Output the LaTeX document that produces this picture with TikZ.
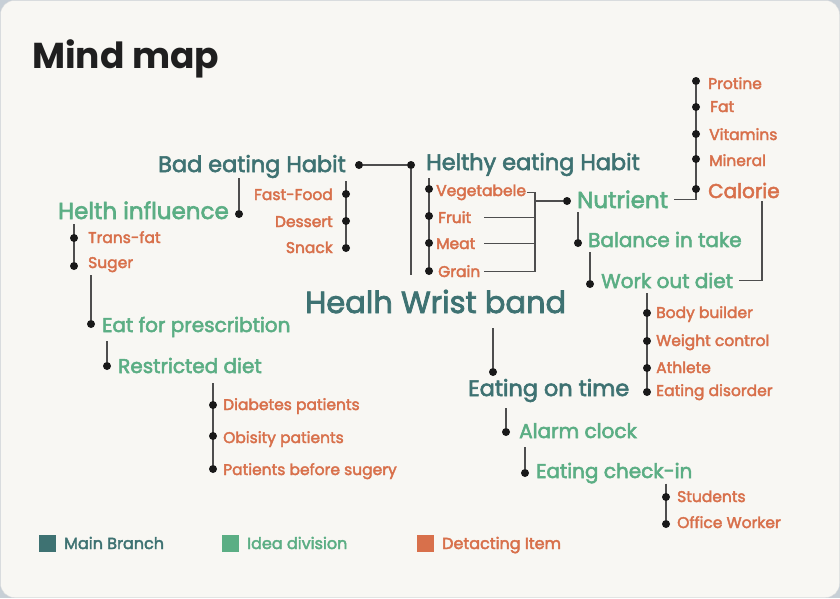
\documentclass[tikz,border=0pt]{standalone}
\usepackage{fontspec}
\setmainfont{Poppins}
\newfontfamily\medfont{Poppins}[FakeBold=2.6]
\usepackage{xcolor}
\usepackage{tikz}
\usetikzlibrary{backgrounds,calc}

\definecolor{mainc}{HTML}{3E7272}
\definecolor{ideac}{HTML}{5BAE84}
\definecolor{itemc}{HTML}{D8704B}
\definecolor{titlec}{HTML}{1F1F1F}
\definecolor{cardc}{HTML}{F8F7F3}
\definecolor{edgec}{HTML}{DCDCDC}
\definecolor{outc}{HTML}{C7CFD6}
\definecolor{linec}{HTML}{4E4E4E}

\begin{document}
\begin{tikzpicture}[
  x=1pt,y=-1pt,
  every node/.style={inner sep=0pt,anchor=base west},
  title/.style={text=titlec,font=\fontsize{36}{40}\selectfont\bfseries},
  mainb/.style={text=mainc,font=\medfont\fontsize{22.4}{26}\selectfont},
  bigb/.style={text=mainc,font=\medfont\fontsize{30.5}{34}\selectfont},
  idea/.style={text=ideac,font=\medfont\fontsize{20}{23}\selectfont},
  bigidea/.style={text=ideac,font=\medfont\fontsize{23}{26}\selectfont},
  item/.style={text=itemc,font=\medfont\fontsize{15.5}{18}\selectfont},
  dot/.style={circle,fill=black!90,minimum size=8pt,anchor=center},
  key/.style={minimum size=17pt,anchor=center},
  keytext/.style={font=\medfont\fontsize{16}{19}\selectfont},
  link/.style={draw=linec,line width=1.3pt}
]
% card
\begin{scope}[on background layer]
\fill[outc] (0,0) rectangle (840,598);
\draw[fill=cardc,draw=edgec,rounded corners=14pt] (0.5,0.5) rectangle (839.5,597.5);
\end{scope}

\node[title] (title) at (32,68) {Mind map};

% main branches
\node[mainb] (bad) at (158,172) {Bad eating Habit};
\node[mainb] (healthy) at (426,170) {Helthy eating Habit};
\node[bigb] (band) at (305,313) {Healh Wrist band};
\node[mainb] (ontime) at (468,396) {Eating on time};

% idea division
\node[bigidea] (influence) at (58,219) {Helth influence};
\node[bigidea] (nutrient) at (577,208) {Nutrient};
\node[idea] (balance) at (588,247) {Balance in take};
\node[idea] (workout) at (601,288) {Work out diet};
\node[idea] (prescr) at (102,332) {Eat for prescribtion};
\node[idea] (restrict) at (118,373) {Restricted diet};
\node[idea] (alarm) at (519,438) {Alarm clock};
\node[idea] (checkin) at (536,478) {Eating check-in};

% detecting items
\node[item,anchor=base east] (fast) at (333,200) {Fast-Food};
\node[item,anchor=base east] (dessert) at (333,227) {Dessert};
\node[item,anchor=base east] (snack) at (333,253) {Snack};
\node[item] (trans) at (88,243) {Trans-fat};
\node[item] (suger) at (88,268) {Suger};
\node[item] (veg) at (436,196) {Vegetabele};
\node[item] (fruit) at (438,223) {Fruit};
\node[item] (meat) at (436,249) {Meat};
\node[item] (grain) at (438,277) {Grain};
\node[item] (protine) at (708,89) {Protine};
\node[item] (fat) at (710,112) {Fat};
\node[item] (vitamins) at (709,140) {Vitamins};
\node[item] (mineral) at (709,166) {Mineral};
\node[idea,text=itemc] (calorie) at (708,198) {Calorie};
\node[item] (body) at (656,318) {Body builder};
\node[item] (weight) at (656,346) {Weight control};
\node[item] (athlete) at (656,373) {Athlete};
\node[item] (disorder) at (656,396) {Eating disorder};
\node[item] (students) at (677,502) {Students};
\node[item] (office) at (677,528) {Office Worker};
\node[item] (diabetes) at (223,410) {Diabetes patients};
\node[item] (obesity) at (223,443) {Obisity patients};
\node[item] (sugery) at (223,475) {Patients before sugery};

% dots
\node[dot] (dBad) at (359,165) {};
\node[dot] (dHub) at (411,165) {};
\node[dot] (dInfl) at (239,214) {};
\node[dot] (dFast) at (346,194) {};
\node[dot] (dDessert) at (346,221) {};
\node[dot] (dSnack) at (346,248) {};
\node[dot] (dTrans) at (74,238) {};
\node[dot] (dSuger) at (74,266) {};
\node[dot] (dPresc) at (91,324) {};
\node[dot] (dRestr) at (107,366) {};
\node[dot] (dDiab) at (213,405) {};
\node[dot] (dObes) at (213,436) {};
\node[dot] (dSug) at (213,469) {};
\node[dot] (dVeg) at (429,189) {};
\node[dot] (dFruit) at (429,216) {};
\node[dot] (dMeat) at (429,243) {};
\node[dot] (dGrain) at (429,271) {};
\node[dot] (dNutr) at (567,201) {};
\node[dot] (dBal) at (578,243) {};
\node[dot] (dWork) at (590,284) {};
\node[dot] (dProt) at (696,81) {};
\node[dot] (dFat) at (696,107) {};
\node[dot] (dVit) at (696,134) {};
\node[dot] (dMin) at (696,159) {};
\node[dot] (dCal) at (696,189) {};
\node[dot] (dBody) at (647,313) {};
\node[dot] (dWeight) at (647,341) {};
\node[dot] (dAth) at (647,368) {};
\node[dot] (dDis) at (647,392) {};
\node[dot] (dTime) at (493,372) {};
\node[dot] (dAlarm) at (506,432) {};
\node[dot] (dCheck) at (525,473) {};
\node[dot] (dStud) at (666,497) {};
\node[dot] (dOff) at (666,524) {};

\coordinate (fork) at (535,201);
\coordinate (tick) at (484,0);

% connectors
\begin{scope}[on background layer]
\draw[link] (dBad) -- (dHub);
\draw[link] (dHub) -- ([yshift=15pt]band.north -| dHub);
\draw[link] (bad.south -| dInfl) -- (dInfl);
\draw[link] ([yshift=-3pt]bad.south -| dFast) -- (dSnack);
\draw[link] ([yshift=-5pt]influence.south -| dTrans) -- (dSuger);
\draw[link] ([yshift=-3pt]suger.south -| dPresc) -- (dPresc);
\draw[link] ([yshift=-4pt]prescr.south -| dRestr) -- (dRestr);
\draw[link] ([yshift=-10pt]restrict.south -| dDiab) -- (dSug);
\draw[link] ([yshift=-2pt]healthy.south -| dVeg) -- (dGrain);
\draw[link] ([xshift=1pt]veg.east) -| (fork |- grain.east) -- (grain.east -| tick);
\draw[link] (fruit.east -| tick) -- (fruit.east -| fork);
\draw[link] (meat.east -| tick) -- (meat.east -| fork);
\draw[link] (fork) -- (dNutr);
\draw[link] ([yshift=-4pt]nutrient.south -| dBal) -- (dBal);
\draw[link] ([yshift=-5pt]balance.south -| dWork) -- (dWork);
\draw[link] ([xshift=6pt]nutrient.east) -| (dProt);
\draw[link] ([xshift=18pt,yshift=-3pt]calorie.south) |- ([xshift=6pt]workout.east);
\draw[link] ([yshift=-5pt]workout.south -| dBody) -- (dDis);
\draw[link] ([yshift=-15pt]band.south -| dTime) -- (dTime);
\draw[link] ([yshift=-6pt]ontime.south -| dAlarm) -- (dAlarm);
\draw[link] ([yshift=-9pt]alarm.south -| dCheck) -- (dCheck);
\draw[link] (checkin.south -| dStud) -- (dOff);
\end{scope}

% legend
\node[key,fill=mainc] (kMain) at (47.5,543.5) {};
\node[key,fill=ideac] (kIdea) at (230.5,543.5) {};
\node[key,fill=itemc] (kItem) at (425.5,543.5) {};
\node[keytext,text=mainc] (tMain) at (64,549) {Main Branch};
\node[keytext,text=ideac] (tIdea) at (247,549) {Idea division};
\node[keytext,text=itemc] (tItem) at (442,549) {Detacting Item};
\end{tikzpicture}
\end{document}
